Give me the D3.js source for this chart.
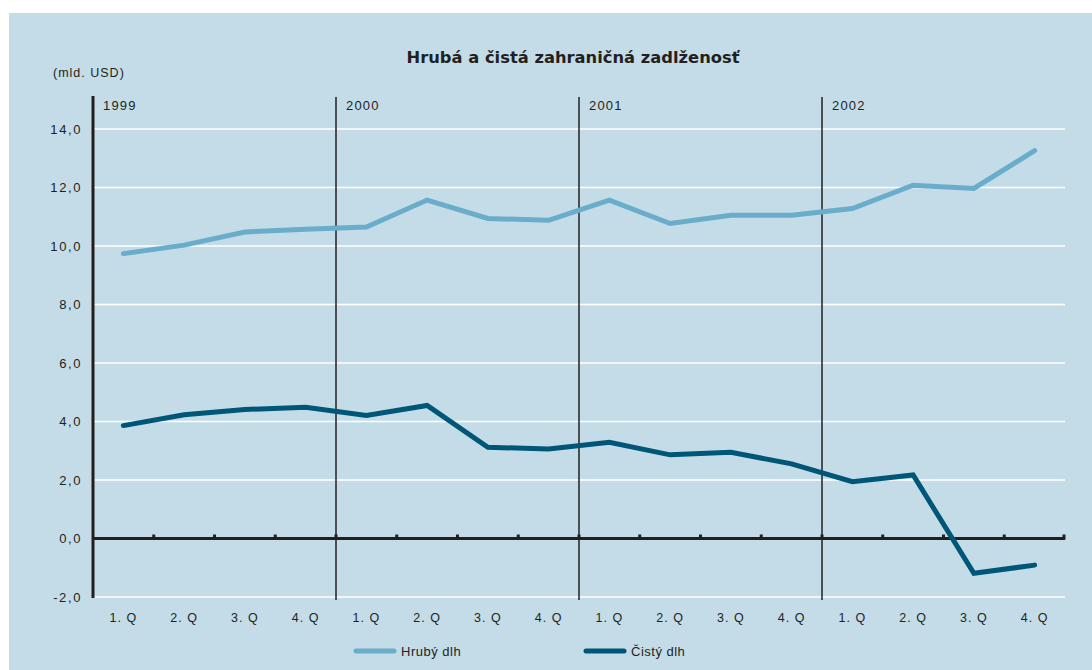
<!DOCTYPE html>
<html>
<head>
<meta charset="utf-8">
<script src="https://cdn.jsdelivr.net/npm/d3@7"></script>
<style>
  body { margin: 0; background: #fff; }
  text { font-family: "Liberation Sans", Arial, sans-serif; fill: #231f20; }
</style>
</head>
<body>
<svg id="chart" width="1092" height="670"></svg>
<script>
const quarters = ["1. Q", "2. Q", "3. Q", "4. Q"];
const years = ["1999", "2000", "2001", "2002"];
const hrubyDlh = [9.74, 10.03, 10.48, 10.57, 10.65, 11.57, 10.94, 10.88,
                  11.57, 10.77, 11.05, 11.05, 11.28, 12.08, 11.97, 13.26];
const cistyDlh = [3.86, 4.23, 4.41, 4.49, 4.21, 4.55, 3.12, 3.06,
                  3.29, 2.86, 2.95, 2.55, 1.94, 2.17, -1.19, -0.91];
const yTicks = [-2, 0, 2, 4, 6, 8, 10, 12, 14];
const seriesNames = ["Hrubý dlh", "Čistý dlh"];
const colors = ["#6aadca", "#005677"];

const svg = d3.select("#chart");
const bg = "#c4dce7";

svg.append("rect")
    .attr("x", 9).attr("y", 13)
    .attr("width", 1092 - 9).attr("height", 670 - 13)
    .attr("fill", bg);

// one slot per quarter
const keys = [];
years.forEach(y => quarters.forEach(q => keys.push(y + "-" + q)));

const x = d3.scaleBand().domain(keys).range([93, 1065]);
const y = d3.scaleLinear().domain([-2, 14]).range([597, 129]);

// white gridlines
svg.append("g")
    .selectAll("line")
    .data(yTicks.filter(d => d !== 0))
    .join("line")
    .attr("x1", 93).attr("x2", 1065)
    .attr("y1", d => y(d)).attr("y2", d => y(d))
    .attr("stroke", "#fff")
    .attr("stroke-width", 1.5);

// y tick labels
svg.append("g")
    .selectAll("text")
    .data(yTicks)
    .join("text")
    .attr("x", 82)
    .attr("y", d => y(d) + 4.5)
    .attr("text-anchor", "end")
    .style("font-size", "13px")
    .style("letter-spacing", "1.6px")
    .text(d => d3.format(".1f")(d).replace(".", ",").replace("−", "-"));

// zero line with ticks
svg.append("line")
    .attr("x1", 93).attr("x2", 1065)
    .attr("y1", y(0)).attr("y2", y(0))
    .attr("stroke", "#231f20")
    .attr("stroke-width", 3);

svg.append("g")
    .selectAll("line")
    .data(keys.slice(1).concat(["end"]))
    .join("line")
    .attr("x1", d => d === "end" ? 1064 : x(d))
    .attr("x2", d => d === "end" ? 1064 : x(d))
    .attr("y1", y(0) - 4).attr("y2", y(0) + 1)
    .attr("stroke", "#231f20")
    .attr("stroke-width", 3);

// year separators
const yearStarts = years.map(yr => yr + "-" + quarters[0]);
svg.append("g")
    .selectAll("line")
    .data(yearStarts.slice(1))
    .join("line")
    .attr("x1", d => x(d)).attr("x2", d => x(d))
    .attr("y1", 97).attr("y2", 600)
    .attr("stroke", "#231f20")
    .attr("stroke-width", 1.5);

// left axis
svg.append("line")
    .attr("x1", 93).attr("x2", 93)
    .attr("y1", 96).attr("y2", 598)
    .attr("stroke", "#231f20")
    .attr("stroke-width", 3);

// year labels
svg.append("g")
    .selectAll("text")
    .data(years)
    .join("text")
    .attr("x", (d, i) => x(yearStarts[i]) + 10)
    .attr("y", 110)
    .style("font-size", "13px")
    .style("letter-spacing", "1.2px")
    .text(d => d);

// quarter labels
svg.append("g")
    .selectAll("text")
    .data(keys)
    .join("text")
    .attr("x", d => x(d) + x.bandwidth() / 2)
    .attr("y", 622)
    .attr("text-anchor", "middle")
    .style("font-size", "12.5px")
    .style("letter-spacing", "1px")
    .text(d => d.split("-")[1]);

// series lines
const line = d3.line()
    .x((d, i) => x(keys[i]) + x.bandwidth() / 2)
    .y(d => y(d));

[hrubyDlh, cistyDlh].forEach((vals, i) => {
    svg.append("path")
        .datum(vals)
        .attr("d", line)
        .attr("fill", "none")
        .attr("stroke", colors[i])
        .attr("stroke-width", 5)
        .attr("stroke-linejoin", "miter")
        .attr("stroke-linecap", "round");
});

// title + unit
svg.append("text")
    .attr("x", 573).attr("y", 63)
    .attr("text-anchor", "middle")
    .attr("textLength", 333)
    .attr("lengthAdjust", "spacingAndGlyphs")
    .style("font-family", "'DejaVu Sans', sans-serif")
    .style("font-size", "15px")
    .style("font-weight", "bold")
    .text("Hrubá a čistá zahraničná zadlženosť");

svg.append("text")
    .attr("x", 53).attr("y", 77)
    .style("font-size", "12.5px")
    .style("letter-spacing", "1px")
    .text("(mld. USD)");

// legend
const legendX = [356, 586];
seriesNames.forEach((name, i) => {
    svg.append("line")
        .attr("x1", legendX[i]).attr("x2", legendX[i] + 38)
        .attr("y1", 651).attr("y2", 651)
        .attr("stroke", colors[i])
        .attr("stroke-width", 5)
        .attr("stroke-linecap", "round");
    svg.append("text")
        .attr("x", legendX[i] + 45)
        .attr("y", 656)
        .style("font-size", "13px")
        .style("letter-spacing", "0.5px")
        .text(name);
});
</script>
</body>
</html>
